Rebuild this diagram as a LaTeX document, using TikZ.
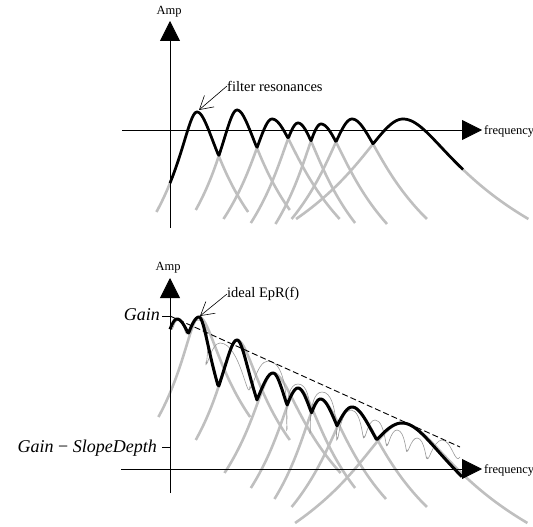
\documentclass[tikz,border=0pt]{standalone}
\usepackage{fontspec}
\setmainfont{Liberation Serif}
\usetikzlibrary{arrows.meta}
\tikzset{
  declare function={res(\t,\c,\p,\l,\r)=\p+40.39*ln(1+((\t-\c)/((\t<\c)?\l:\r))^2);},
  axis/.style={line width=0.8pt, -{Triangle[length=20pt,width=20pt]}},
  reso/.style={line width=2.6pt, black!25},
  envel/.style={line width=2.7pt, line join=round},
  ripple/.style={line width=0.6pt, black!40},
  note/.style={line width=0.6pt, -{Straight Barb[length=13pt,width=15pt]}},
  notetext/.style={font=\fontsize{14.5}{17}\selectfont, anchor=west, inner sep=0pt},
  small/.style={font=\fontsize{12.5}{14}\selectfont, inner sep=0pt},
  level/.style={font=\fontsize{18}{21}\selectfont\itshape, anchor=base east, inner sep=0pt},
}
\begin{document}
\begin{tikzpicture}[x=1pt,y=-1pt]
\useasboundingbox (0,0) rectangle (533,527);
%    \draw [color=gray] [step=10pt] (0,0) grid (533,527);

% upper plot
\foreach \cx/\py/\wa/\wb in {197/112/12.3/15.5, 237/110/12.5/16, 272/119/14.7/20.5,
    298/123/14.3/17.3, 321/124/13.8/20, 352/119/18.3/22.7, 403/119/32.4/38}{
  \pgfmathsetmacro\lo{\cx-3.3*\wa}
  \pgfmathsetmacro\hi{\cx+3.3*\wb}
  \draw[reso] plot[domain=\lo:\hi, samples=60] (\x,{res(\x,\cx,\py,\wa,\wb)});
}
\draw[envel] plot[domain=170:463, samples=300] (\x,{min(res(\x,197,112,12.3,15.5),
    res(\x,237,110,12.5,16), res(\x,272,119,14.7,20.5), res(\x,298,123,14.3,17.3),
    res(\x,321,124,13.8,20), res(\x,352,119,18.3,22.7), res(\x,403,119,32.4,38))});

\coordinate (ya) at (170,228);
\coordinate (yb) at (170,21);
\coordinate (xa) at (122,130);
\coordinate (xb) at (482,130);
\draw[axis] (ya) -- (yb);
\draw[axis] (xa) -- (xb);
\node[small] (amp1) at (169,12) {Amp};
\node[small, anchor=west] (freq1) at (484,131) {frequency};

\node[notetext] (filt) at (227,86) {filter resonances};
\coordinate (pk1) at (199,110);
\draw[note] (filt.west) -- (pk1);

% lower plot
\foreach \cx/\py/\wa/\wb in {199/317/12.3/15.5, 237/340/12.5/16, 273/373/14.7/20.5,
    298/388/14.3/17.3, 320/399/13.8/20, 352/407/18.3/22.7, 402/423/32.4/38}{
  \pgfmathsetmacro\lo{\cx-3.3*\wa}
  \pgfmathsetmacro\hi{\cx+3.3*\wb}
  \draw[reso] plot[domain=\lo:\hi, samples=60] (\x,{res(\x,\cx,\py,\wa,\wb)});
}

\coordinate (gn) at (170,316);
\coordinate (sd) at (460,447);
\draw[ripple, line join=round] (171,329) to[out=-60,in=180] (178,320) to[out=0,in=240] (188,333)
  to[out=-60,in=180] (198,320) to[out=0,in=265] (206,362) to[out=-85,in=180] (220,343)
  to[out=0,in=265] (250,386) to[out=-85,in=180] (268,361) to[out=0,in=265] (287,426)
  to[out=-85,in=180] (298,384) to[out=0,in=265] (310,430) to[out=-85,in=180] (322,392)
  to[out=0,in=265] (337,437) to[out=-85,in=180] (351,410) to[out=0,in=265] (364,436)
  to[out=-85,in=180] (375,420) to[out=0,in=265] (387,444) to[out=-85,in=180] (397,430)
  to[out=0,in=265] (407,450) to[out=-85,in=180] (417,438) to[out=0,in=265] (427,457)
  to[out=-85,in=180] (442,440) to[out=0,in=240] (460,457);
\draw[line width=0.9pt, dash pattern=on 6pt off 3pt] (gn) -- (sd);

\draw[envel, line width=3pt] plot[domain=170:462, samples=300] (\x,{min(res(\x,177,319,13,17),
    res(\x,199,317,15,9), res(\x,237,340,12.5,10.8), res(\x,273,373,16.4,12.7),
    res(\x,298,388,15,14.6), res(\x,320.5,399,14,17), res(\x,352,407,19.4,22),
    res(\x,402,423,35,36))});

\coordinate (yc) at (170,493);
\coordinate (yd) at (170,278);
\coordinate (xc) at (121,469);
\coordinate (xd) at (482,469);
\draw[axis] (yc) -- (yd);
\draw[axis] (xc) -- (xd);
\node[small] (amp2) at (168,268) {Amp};
\node[small, anchor=west] (freq2) at (484,470) {frequency};

\node[level] (gain) at (160,320) {Gain};
\node[level] (gsd) at (157,452) {Gain {\upshape −} SlopeDepth};
\coordinate (gt) at (162,316);
\coordinate (st) at (162,447);
\coordinate (sl) at (170,447);
\draw[line width=0.6pt] (gt) -- (gn);
\draw[line width=0.6pt] (st) -- (sl);

\node[notetext] (epr) at (227,294) {ideal EpR(f)};
\coordinate (pk2) at (200,316);
\draw[note] (epr.west) -- (pk2);
\end{tikzpicture}
\end{document}
